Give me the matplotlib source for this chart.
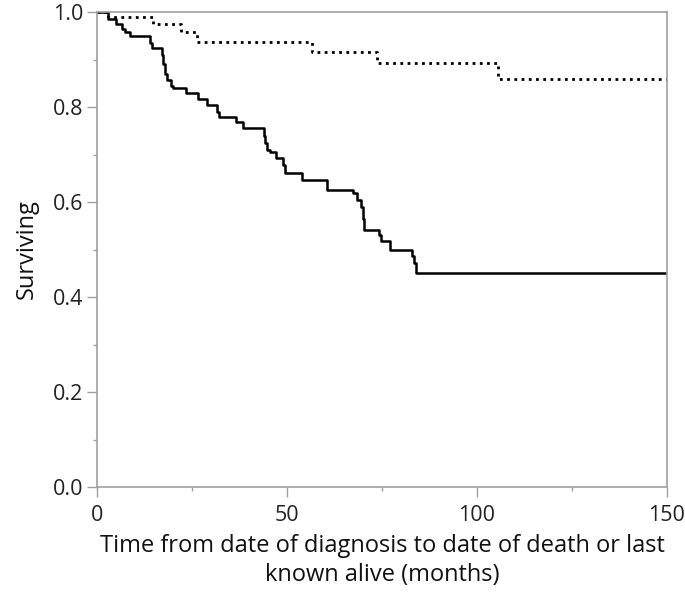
import matplotlib
matplotlib.use("Agg")
import matplotlib.pyplot as plt
from matplotlib.ticker import MultipleLocator, FormatStrFormatter

# Kaplan-Meier style curves (months, surviving fraction)
t_solid = [0, 3, 5, 6.5, 7.5, 8.7, 14, 14.5, 17, 17.5, 18, 18.5, 19.5, 20,
           23.5, 26.5, 29, 31.5, 32, 36.5, 38.5, 44, 44.3, 44.8, 45.5, 47,
           49, 49.5, 54, 60.5, 67.5, 68.5, 69.5, 70, 70.3, 74.3, 74.8, 77,
           83, 83.5, 84, 150]
s_solid = [1.0, 0.985, 0.975, 0.965, 0.958, 0.949, 0.935, 0.924, 0.91, 0.89,
           0.87, 0.857, 0.845, 0.84, 0.83, 0.816, 0.804, 0.79, 0.779, 0.768,
           0.756, 0.74, 0.725, 0.71, 0.705, 0.693, 0.678, 0.661, 0.646, 0.625,
           0.618, 0.604, 0.59, 0.565, 0.541, 0.53, 0.518, 0.499, 0.487, 0.472,
           0.45, 0.45]

t_dot = [0, 3, 14.7, 22, 26.3, 56.7, 73.8, 105.5, 150]
s_dot = [1.0, 0.99, 0.975, 0.958, 0.937, 0.916, 0.893, 0.859, 0.859]

plt.rcParams['font.family'] = ['Open Sans', 'DejaVu Sans']

fig = plt.figure(figsize=(6.85, 6.0), dpi=100)
ax = fig.add_axes([0.1416, 0.1883, 0.832, 0.7917])

ax.step(t_solid, s_solid, where='post', color='black', lw=1.8)
ax.step(t_dot, s_dot, where='post', color='black', lw=2.0, linestyle=(0, (1, 1.6)))

ax.set_xlim(0, 150)
ax.set_ylim(0, 1.0)
ax.xaxis.set_major_locator(MultipleLocator(50))
ax.xaxis.set_minor_locator(MultipleLocator(25))
ax.yaxis.set_major_locator(MultipleLocator(0.2))
ax.yaxis.set_minor_locator(MultipleLocator(0.1))
ax.yaxis.set_major_formatter(FormatStrFormatter('%.1f'))

for sp in ax.spines.values():
    sp.set_color('#a0a0a0')
    sp.set_linewidth(1.2)
ax.tick_params(which='major', length=7, width=1, color='#a0a0a0',
               labelsize=15.5, labelcolor='#222222', pad=3)
ax.tick_params(axis='x', which='major', pad=6)
ax.tick_params(which='minor', length=3, width=1, color='#a0a0a0')

ax.set_xlabel('Time from date of diagnosis to date of death or last\nknown alive (months)',
              fontsize=17, labelpad=6, linespacing=1.25, color='#111111')
ax.set_ylabel('Surviving', fontsize=17, labelpad=10, color='#111111')

fig.savefig('out.png', dpi=100)
